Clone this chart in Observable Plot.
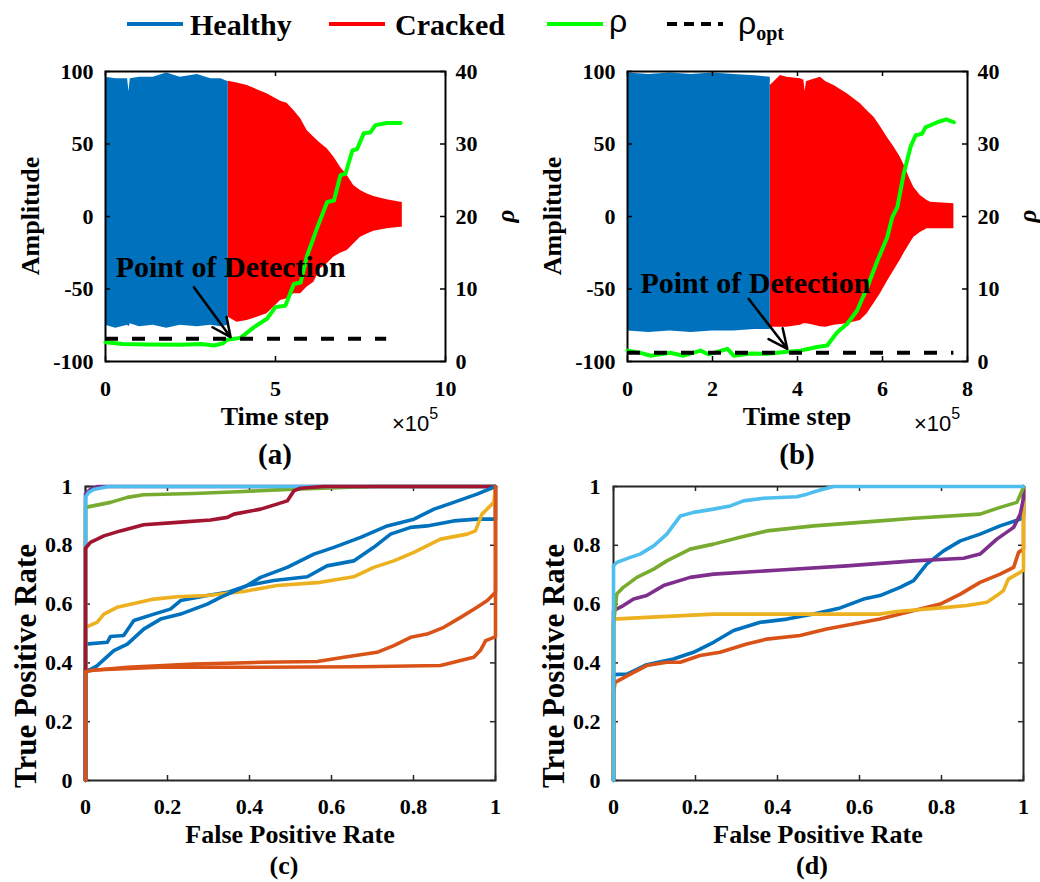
<!DOCTYPE html>
<html><head><meta charset="utf-8">
<script src="https://cdn.jsdelivr.net/npm/d3@7"></script>
<script src="https://cdn.jsdelivr.net/npm/@observablehq/plot@0.6"></script>
<style>
body{margin:0;background:#fff;}
#fig{position:relative;width:1040px;height:882px;overflow:hidden;background:#fff;}
#fig > svg{position:absolute;}
#fig text{font-family:"Liberation Serif","Times New Roman",serif;font-weight:bold;}
#fig text.sans{font-family:"Liberation Sans",Arial,sans-serif;font-weight:normal;}
#fig tspan.serif{font-family:"Liberation Serif","Times New Roman",serif;font-weight:bold;}
</style></head><body><div id="fig"></div>
<script>
// ---------- data: panel (a) ----------
const healthyA_t  = [0, 0.3, 0.65, 0.69, 0.73, 1.0, 1.4, 1.8, 2.2, 2.7, 3.1, 3.4, 3.61];
const healthyA_hi = [96, 95, 95, 86, 95, 96, 96, 99, 96, 98, 95, 95, 93];
const healthyA_lo = [-75, -77, -75, -76, -74, -76, -75, -77, -75, -76, -75, -76, -75];
const crackA_t  = [3.61, 3.87, 4.17, 4.46, 4.75, 4.95, 5.15, 5.34, 5.54, 5.74, 5.93, 6.13, 6.32, 6.52, 6.72, 6.91, 7.11, 7.3, 7.5, 7.7, 7.89, 8.28, 8.68, 8.73];
const crackA_hi = [93.3, 92, 90.3, 87.5, 84.6, 82, 79.5, 78.1, 73.1, 67.4, 59.3, 54.7, 50.5, 46.7, 40.9, 34, 28.3, 21.4, 18, 15.5, 13.8, 11.5, 9.9, 9.9];
const crackA_lo = [-69.4, -72.9, -71.7, -69.5, -67.1, -62.5, -58, -56.8, -53.3, -53.3, -48.7, -45.3, -36.1, -32.6, -28, -25.3, -23.4, -18.9, -14.3, -12, -10.2, -8.5, -7.4, -7.4];
const rhoA_t = [0, 0.5, 1.23, 2.2, 2.8, 3.19, 3.45, 3.58, 3.97, 4.36, 4.75, 5.0, 5.29, 5.54, 5.74, 5.93, 6.23, 6.52, 6.72, 6.91, 7.06, 7.26, 7.4, 7.6, 7.79, 7.94, 8.28, 8.68];
const rhoA_v = [2.66, 2.4, 2.34, 2.3, 2.4, 2.2, 2.5, 3.0, 3.26, 4.7, 5.9, 7.5, 7.7, 10.7, 10.9, 14.6, 18.5, 22, 22.2, 25.7, 25.9, 29.1, 29.3, 31.5, 31.6, 32.6, 32.9, 32.9];
const rhoOptA = 3.13, rhoOptA_end = 8.27;
const podA = {t: 3.68, v: 12.97};
const arrowA = {t1: 2.6, v1: 10.25, t2: 3.68, v2: 3.35};

// ---------- data: panel (b) ----------
const healthyB_t  = [0, 0.5, 1.0, 1.5, 2.0, 2.5, 3.0, 3.36];
const healthyB_hi = [99, 98, 99, 98, 99, 98, 97, 96];
const healthyB_lo = [-79, -80, -79, -80, -79, -79, -78, -78];
const crackB_t  = [3.36, 3.6, 3.75, 4.07, 4.15, 4.18, 4.21, 4.31, 4.54, 4.67, 4.86, 5.17, 5.48, 5.64, 5.8, 5.95, 6.11, 6.27, 6.42, 6.5, 6.66, 6.74, 6.89, 7.05, 7.13, 7.68];
const crackB_hi = [90.3, 97.2, 96, 95, 94, 86, 93, 93.9, 96.1, 93, 90.3, 84.6, 77.7, 73, 68.5, 62, 54.7, 48, 40.9, 36, 24.8, 20, 14.5, 11, 9.9, 8.8];
const crackB_lo = [-76.4, -76.4, -76.4, -75, -74, -74, -74, -74.5, -76, -76.4, -75, -74, -71.7, -67.1, -60, -53.3, -45, -37.2, -30, -25.7, -18, -14.3, -11, -8.5, -8.5, -8.5];
const rhoB_t = [0, 0.3, 0.54, 1.0, 1.32, 1.72, 1.9, 2.1, 2.35, 2.5, 2.9, 3.29, 3.7, 4.07, 4.46, 4.7, 4.93, 5.17, 5.4, 5.64, 5.88, 6.11, 6.23, 6.35, 6.5, 6.66, 6.78, 6.93, 7.01, 7.29, 7.5, 7.68];
const rhoB_v = [1.5, 1.2, 0.8, 1.2, 0.8, 1.5, 1.0, 1.3, 1.75, 0.8, 1.1, 1.06, 1.3, 1.5, 2.0, 2.2, 4.0, 5.2, 7.0, 10.2, 13.9, 17.1, 19.9, 21.3, 25.9, 29.6, 31.2, 31.4, 32.3, 33.0, 33.4, 33.0];
const rhoOptB = 1.2, rhoOptB_end = 7.68;
const podB = {t: 3.01, v: 10.76};
const arrowB = {t1: 2.85, v1: 8.65, t2: 3.76, v2: 1.75};

// ---------- ticks ----------
const AMP_TICKS = [-100, -50, 0, 50, 100];
const RHO_TICKS = [0, 10, 20, 30, 40];
const XTICKS_A = [0, 5, 10];
const XTICKS_B = [0, 2, 4, 6, 8];
const ROC_TICKS = [0, 0.2, 0.4, 0.6, 0.8, 1];

// ---------- data: panel (c) ROC curves (FPR, TPR) ----------
const c_blue1 = [[0,0],[0,0.464],[0.053,0.47],[0.061,0.49],[0.093,0.493],[0.118,0.544],[0.167,0.566],[0.207,0.583],[0.232,0.612],[0.297,0.629],[0.346,0.64],[0.394,0.663],[0.459,0.68],[0.541,0.693],[0.589,0.73],[0.654,0.747],[0.703,0.793],[0.744,0.838],[0.793,0.861],[0.833,0.866],[0.898,0.883],[0.955,0.889],[1,0.889],[1,1]];
const c_orange1 = [[0,0],[0,0.379],[0.012,0.374],[0.102,0.385],[0.264,0.396],[0.427,0.402],[0.565,0.405],[0.63,0.419],[0.711,0.436],[0.752,0.459],[0.793,0.487],[0.833,0.498],[0.874,0.521],[0.915,0.555],[0.955,0.589],[0.98,0.612],[1,0.64],[1,1]];
const c_yellow = [[0,0],[0,0.521],[0.028,0.538],[0.045,0.566],[0.077,0.589],[0.118,0.602],[0.167,0.617],[0.224,0.625],[0.297,0.629],[0.386,0.643],[0.467,0.663],[0.573,0.674],[0.654,0.693],[0.703,0.725],[0.752,0.747],[0.801,0.776],[0.866,0.821],[0.931,0.838],[0.951,0.849],[0.967,0.906],[0.996,0.946],[1,1]];
const c_purple = [[0,0],[0,0.975],[0.012,0.99],[0.03,1],[1,1]];
const c_green = [[0,0],[0,0.929],[0.061,0.946],[0.102,0.963],[0.142,0.972],[0.264,0.976],[0.386,0.983],[0.508,0.991],[0.63,0.997],[0.71,1],[1,1]];
const c_lightblue = [[0,0],[0,0.965],[0.008,0.98],[0.02,0.99],[0.056,1],[1,1]];
const c_darkred = [[0,0],[0,0.79],[0.012,0.81],[0.045,0.832],[0.085,0.849],[0.142,0.87],[0.224,0.878],[0.305,0.886],[0.346,0.895],[0.362,0.906],[0.427,0.923],[0.467,0.94],[0.492,0.951],[0.508,0.985],[0.524,0.994],[0.581,1],[1,1]];
const c_blue2 = [[0,0],[0,0.368],[0.028,0.39],[0.069,0.442],[0.102,0.464],[0.142,0.515],[0.183,0.549],[0.232,0.566],[0.297,0.6],[0.329,0.623],[0.394,0.663],[0.427,0.691],[0.492,0.725],[0.557,0.77],[0.606,0.793],[0.671,0.827],[0.736,0.866],[0.801,0.889],[0.85,0.923],[0.898,0.946],[0.955,0.974],[1,1]];
const c_orange2 = [[0,0],[0,0.37],[0.02,0.376],[0.183,0.385],[0.427,0.385],[0.671,0.387],[0.866,0.391],[0.915,0.408],[0.947,0.419],[0.963,0.442],[0.976,0.476],[0.996,0.487],[1,0.49],[1,1]];

// ---------- data: panel (d) ROC curves ----------
const d_blue = [[0,0],[0,0.36],[0.033,0.362],[0.081,0.394],[0.146,0.413],[0.195,0.436],[0.244,0.47],[0.293,0.51],[0.358,0.538],[0.423,0.549],[0.488,0.566],[0.553,0.587],[0.61,0.617],[0.65,0.629],[0.699,0.657],[0.732,0.68],[0.764,0.736],[0.805,0.781],[0.846,0.815],[0.894,0.838],[0.943,0.866],[0.992,0.889],[1,0.9],[1,1]];
const d_orange = [[0,0],[0,0.3],[0.004,0.334],[0.041,0.362],[0.081,0.391],[0.13,0.402],[0.163,0.402],[0.211,0.425],[0.26,0.436],[0.325,0.464],[0.374,0.481],[0.455,0.493],[0.52,0.515],[0.585,0.532],[0.65,0.549],[0.699,0.566],[0.748,0.583],[0.797,0.6],[0.846,0.634],[0.894,0.674],[0.943,0.702],[0.976,0.725],[0.988,0.776],[1,0.787],[1,1]];
const d_yellow = [[0,0],[0,0.549],[0.081,0.555],[0.244,0.566],[0.407,0.566],[0.65,0.566],[0.691,0.575],[0.813,0.589],[0.862,0.595],[0.911,0.606],[0.935,0.629],[0.951,0.646],[0.963,0.685],[0.992,0.708],[1,0.716],[1,1]];
const d_purple = [[0,0],[0,0.578],[0.024,0.595],[0.049,0.617],[0.081,0.629],[0.122,0.663],[0.187,0.691],[0.244,0.702],[0.407,0.716],[0.569,0.73],[0.732,0.747],[0.854,0.756],[0.894,0.77],[0.935,0.821],[0.976,0.861],[0.992,0.906],[1,0.96],[1,1]];
const d_green = [[0,0],[0,0.532],[0.008,0.634],[0.024,0.657],[0.057,0.691],[0.098,0.719],[0.13,0.747],[0.187,0.787],[0.244,0.804],[0.309,0.827],[0.374,0.849],[0.488,0.866],[0.65,0.883],[0.732,0.892],[0.894,0.906],[0.943,0.929],[0.984,0.946],[1,0.997],[1,1]];
const d_lightblue = [[0,0],[0,0.73],[0.008,0.742],[0.041,0.759],[0.065,0.77],[0.098,0.798],[0.13,0.838],[0.163,0.9],[0.195,0.912],[0.244,0.923],[0.285,0.934],[0.317,0.951],[0.366,0.96],[0.447,0.965],[0.472,0.974],[0.504,0.988],[0.537,1],[1,1]];

// ---------- styles ----------
const BLUE = "#0072BD", ORANGE = "#D95319", YELLOW = "#EDB120", PURPLE = "#7E2F8E",
      GREEN = "#77AC30", LIGHTBLUE = "#4DBEEE", DARKRED = "#A2142F",
      HEALTHY = "#0072BD", CRACKED = "#FF0000", RHO = "#00FF00";
const SERIF = '"Liberation Serif", "Times New Roman", serif';
const TICK = 5;
const baseStyle = {fontFamily: SERIF, fontSize: "22px", fontWeight: "bold", background: "transparent", overflow: "visible"};
const axisFont = {fontSize: 22, fontWeight: "bold"};
const fmt = d => String(d);

const fig = document.getElementById("fig");
function place(svg, left, top) {
  svg.style.left = left + "px"; svg.style.top = top + "px"; svg.style.position = "absolute";
  fig.appendChild(svg);
}
const band = (t, hi, lo) => t.map((d, i) => ({t: d, hi: hi[i], lo: lo[i]}));
const series = (t, v) => t.map((d, i) => ({t: d, v: v[i]}));

function signalPlot(g, xDomain, xTicks, healthy, cracked) {
  const fh = g.height - g.mt - g.mb, fw = g.width - g.ml - g.mr;
  return Plot.plot({
    width: g.width, height: g.height, marginLeft: g.ml, marginRight: g.mr, marginTop: g.mt, marginBottom: g.mb,
    x: {domain: xDomain}, y: {domain: [-100, 100]},
    style: baseStyle,
    marks: [
      Plot.areaY(cracked, {x: "t", y1: "lo", y2: "hi", fill: CRACKED}),
      Plot.areaY(healthy, {x: "t", y1: "lo", y2: "hi", fill: HEALTHY}),
      Plot.tickX(xTicks, {x: d => d, insetTop: fh - TICK, stroke: "black", strokeWidth: 1.5}),
      Plot.tickX(xTicks, {x: d => d, insetBottom: fh - TICK, stroke: "black", strokeWidth: 1.5}),
      Plot.tickY(AMP_TICKS, {y: d => d, insetRight: fw - TICK, stroke: "black", strokeWidth: 1.5}),
      Plot.frame({stroke: "black", strokeWidth: 2}),
      Plot.axisX(xTicks, {tickSize: 0, tickPadding: 19, label: null, tickFormat: fmt, ...axisFont}),
      Plot.axisY(AMP_TICKS, {tickSize: 0, tickPadding: 12, label: null, tickFormat: fmt, ...axisFont})
    ]
  });
}
function rhoPlot(g, xDomain, rho, optVal, optEnd, pod, arr) {
  const fw = g.width - g.ml - g.mr;
  return Plot.plot({
    width: g.width, height: g.height, marginLeft: g.ml, marginRight: g.mr, marginTop: g.mt, marginBottom: g.mb,
    x: {domain: xDomain, axis: null}, y: {domain: [0, 40]},
    style: baseStyle,
    marks: [
      Plot.line(rho, {x: "t", y: "v", stroke: RHO, strokeWidth: 4, strokeLinejoin: "round"}),
      Plot.ruleY([optVal], {x1: 0, x2: optEnd, stroke: "black", strokeWidth: 4, strokeDasharray: "13,14"}),
      Plot.tickY(RHO_TICKS, {y: d => d, insetLeft: fw - TICK, stroke: "black", strokeWidth: 1.5}),
      Plot.axisY(RHO_TICKS, {anchor: "right", tickSize: 0, tickPadding: 10, label: null, tickFormat: fmt, ...axisFont}),
      Plot.text([pod], {x: "t", y: "v", text: () => "Point of Detection", fontSize: 30, fontWeight: "bold", fill: "black"}),
      Plot.arrow([arr], {x1: "t1", y1: "v1", x2: "t2", y2: "v2", stroke: "black", strokeWidth: 2.5, headLength: 14, headAngle: 50})
    ]
  });
}
function rocPlot(g, curves) {
  const fh = g.height - g.mt - g.mb, fw = g.width - g.ml - g.mr;
  return Plot.plot({
    width: g.width, height: g.height, marginLeft: g.ml, marginRight: g.mr, marginTop: g.mt, marginBottom: g.mb,
    x: {domain: [0, 1]}, y: {domain: [0, 1]},
    style: baseStyle,
    marks: [
      Plot.frame({stroke: "#262626", strokeWidth: 2}),
      Plot.tickX(ROC_TICKS, {x: d => d, insetTop: fh - TICK, stroke: "#262626", strokeWidth: 1.5}),
      Plot.tickX(ROC_TICKS, {x: d => d, insetBottom: fh - TICK, stroke: "#262626", strokeWidth: 1.5}),
      Plot.tickY(ROC_TICKS, {y: d => d, insetRight: fw - TICK, stroke: "#262626", strokeWidth: 1.5}),
      Plot.tickY(ROC_TICKS, {y: d => d, insetLeft: fw - TICK, stroke: "#262626", strokeWidth: 1.5}),
      Plot.axisX(ROC_TICKS, {tickSize: 0, tickPadding: 18, label: null, tickFormat: fmt, ...axisFont}),
      Plot.axisY(ROC_TICKS, {tickSize: 0, tickPadding: 13, label: null, tickFormat: fmt, ...axisFont}),
      ...curves.map(([data, color]) => Plot.line(data, {x: d => d[0], y: d => d[1], stroke: color, strokeWidth: 3.6, strokeLinejoin: "round"}))
    ]
  });
}

const gA = {width: 540, height: 340, ml: 105, mr: 95, mt: 11, mb: 39};
const gB = {width: 520, height: 340, ml: 107, mr: 73, mt: 11, mb: 39};
const gC = {width: 520, height: 360, ml: 85, mr: 25, mt: 16, mb: 50};
const gD = {width: 520, height: 360, ml: 93, mr: 17, mt: 16, mb: 50};

place(signalPlot(gA, [0, 10], XTICKS_A, band(healthyA_t, healthyA_hi, healthyA_lo), band(crackA_t, crackA_hi, crackA_lo)), 0, 60);
place(rhoPlot(gA, [0, 10], series(rhoA_t, rhoA_v), rhoOptA, rhoOptA_end, podA, arrowA), 0, 60);
place(signalPlot(gB, [0, 8], XTICKS_B, band(healthyB_t, healthyB_hi, healthyB_lo), band(crackB_t, crackB_hi, crackB_lo)), 520, 60);
place(rhoPlot(gB, [0, 8], series(rhoB_t, rhoB_v), rhoOptB, rhoOptB_end, podB, arrowB), 520, 60);
place(rocPlot(gC, [[c_blue1, BLUE], [c_orange1, ORANGE], [c_yellow, YELLOW], [c_purple, PURPLE], [c_green, GREEN], [c_lightblue, LIGHTBLUE], [c_darkred, DARKRED], [c_blue2, BLUE], [c_orange2, ORANGE]]), 0, 470);
place(rocPlot(gD, [[d_blue, BLUE], [d_orange, ORANGE], [d_yellow, YELLOW], [d_purple, PURPLE], [d_green, GREEN], [d_lightblue, LIGHTBLUE]]), 520, 470);

// ---------- labels, legend ----------
const ov = d3.create("svg").attr("width", 1040).attr("height", 882)
  .style("position", "absolute").style("left", "0px").style("top", "0px").style("pointer-events", "none");
function label(s, x, y, o = {}) {
  const t = ov.append("text").attr("x", x).attr("y", y).text(s)
    .attr("font-size", o.size || 26).attr("text-anchor", o.anchor || "middle").attr("fill", "black");
  if (o.sans) t.attr("class", "sans");
  if (o.rotate) t.attr("transform", `rotate(-90 ${x} ${y})`).attr("dominant-baseline", "central");
  if (o.italic) t.attr("font-style", "italic");
  return t;
}
// legend
const leg = [[127, HEALTHY, null], [329, CRACKED, null], [547, RHO, null], [667, "black", "10,7"]];
leg.forEach(([x, c, dash]) => {
  const l = ov.append("line").attr("x1", x).attr("x2", x + 56).attr("y1", 24).attr("y2", 24)
    .attr("stroke", c).attr("stroke-width", 4);
  if (dash) l.attr("stroke-dasharray", dash);
});
label("Healthy", 190, 35, {size: 30, anchor: "start"});
label("Cracked", 395, 35, {size: 30, anchor: "start"});
label("ρ", 609, 32, {size: 32, anchor: "start", sans: true});
const ro = label("ρ", 738, 34, {size: 32, anchor: "start", sans: true});
ro.append("tspan").attr("class", "serif").attr("dy", 6).attr("font-size", 20).text("opt");

// panel (a)/(b) labels
[[105, 445, "(a)"], [627, 967, "(b)"]].forEach(([l, r, tag]) => {
  const cx = (l + r) / 2;
  label("Amplitude", l - 75, 216, {rotate: true, size: 26});
  label("ρ", r + 60, 216, {rotate: true, size: 25, italic: true});
  label("Time step", cx, 425, {size: 26});
  label(tag, cx, 464, {size: 29});
  const e = label("×10", r - 53, 431, {size: 22, anchor: "start", sans: true});
  e.append("tspan").attr("dy", -12).attr("font-size", 16).text("5");
});
// panel (c)/(d) labels
[[85, 495, "(c)"], [613, 1023, "(d)"]].forEach(([l, r, tag]) => {
  const cx = (l + r) / 2;
  label("True Positive Rate", l - 60, 666, {rotate: true, size: 31});
  label("False Positive Rate", cx, 843, {size: 26});
  label(tag, cx - 6, 874, {size: 26});
});
fig.appendChild(ov.node());
</script></body></html>
